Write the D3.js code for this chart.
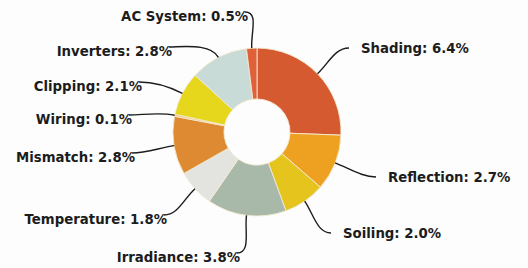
<!DOCTYPE html>
<html>
<head>
<meta charset="utf-8">
<script src="https://cdn.jsdelivr.net/npm/d3@7"></script>
<style>
  html, body { margin: 0; padding: 0; background: #fdfdfd; }
  svg { display: block; }
</style>
</head>
<body>
<svg id="chart" width="528" height="268"></svg>
<script>
// ---- data ----
const categories = ["Shading", "Reflection", "Soiling", "Irradiance", "Temperature",
                    "Mismatch", "Wiring", "Clipping", "Inverters", "AC System"];
const values = [6.4, 2.7, 2.0, 3.8, 1.8, 2.8, 0.1, 2.1, 2.8, 0.5];
const colors = ["#d65a30", "#eea120", "#e6c41e", "#a8b8a9", "#e3e3df",
                "#de8a32", "#f2c47a", "#e6d61c", "#c9dbd7", "#e0603a"];

// ---- layout (label placement relative to centre, baseline) ----
const labelDX = [104, 131, 86, -17, -90, -122, -125, -115, -85, -9];
const labelDY = [-79, 50, 106, 130, 92, 30, -8, -41, -76, -111];
const labelSide = ["right", "right", "right", "left", "left", "left", "left", "left", "left", "left"];

const W = 528, H = 268;
const cx = 257, cy = 132, rOuter = 84, rInner = 33;
const fontSize = 13.3;

const svg = d3.select("#chart");
svg.append("rect").attr("width", W).attr("height", H).attr("fill", "#fdfdfd");
const g = svg.append("g").attr("transform", `translate(${cx},${cy})`);

const data = categories.map((c, i) => ({ name: c, value: values[i], color: colors[i], i }));

const pie = d3.pie().value(d => d.value).sort(null).startAngle(0).endAngle(2 * Math.PI);
const arcs = pie(data);
const arc = d3.arc().innerRadius(rInner).outerRadius(rOuter);

g.selectAll("path.slice")
  .data(arcs)
  .enter().append("path")
  .attr("class", "slice")
  .attr("d", arc)
  .attr("fill", d => d.data.color)
  .attr("stroke", "#f3ead0")
  .attr("stroke-width", 0.9);

// labels
const fmt = v => v.toFixed(1) + "%";
const labels = g.selectAll("text.lab")
  .data(arcs)
  .enter().append("text")
  .attr("class", "lab")
  .attr("x", d => labelDX[d.index])
  .attr("y", d => labelDY[d.index])
  .attr("text-anchor", d => labelSide[d.index] === "right" ? "start" : "end")
  .attr("font-family", "DejaVu Sans, Verdana, sans-serif")
  .attr("font-weight", "bold")
  .attr("font-size", fontSize + "px")
  .attr("fill", "#1c1c1c")
  .text(d => `${d.data.name}: ${fmt(d.data.value)}`);

// leader lines
g.selectAll("path.leader")
  .data(arcs)
  .enter().append("path")
  .attr("class", "leader")
  .attr("fill", "none")
  .attr("stroke", "#1c1c1c")
  .attr("stroke-width", 1.4)
  .attr("d", d => {
    const a = (d.startAngle + d.endAngle) / 2;
    const dx = Math.sin(a), dy = -Math.cos(a);
    const p0 = [dx * rOuter, dy * rOuter];
    const i = d.index;
    let end, c2;
    if (labelSide[i] === "right") {
      end = [labelDX[i] - 12, labelDY[i] - fontSize * 0.38];
      c2 = [end[0] - 14, end[1]];
    } else {
      end = [labelDX[i] - 3, labelDY[i] - fontSize * 0.68];
      c2 = [end[0] + 14, end[1]];
    }
    const c1 = [p0[0] + dx * 16, p0[1] + dy * 16];
    const p = d3.path();
    p.moveTo(p0[0], p0[1]);
    p.bezierCurveTo(c1[0], c1[1], c2[0], c2[1], end[0], end[1]);
    return p.toString();
  });
</script>
</body>
</html>
